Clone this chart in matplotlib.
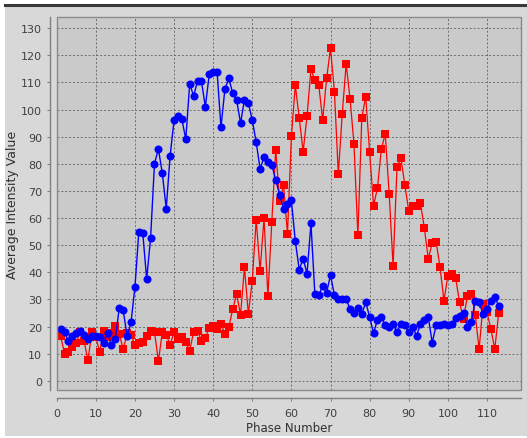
import numpy as np
import matplotlib
matplotlib.use("Agg")
import matplotlib.pyplot as plt
from matplotlib.patches import Rectangle
from matplotlib.lines import Line2D

# Data
phase = list(range(1, 114))

blue_values = [
    19, 18, 14.5, 16.5, 17.5, 18.5, 17, 15.5, 16.5, 16.5,
    16, 14, 17.5, 13, 15.5, 27, 26, 16.5, 21.5, 34.5,
    55, 54.5, 37.5, 52.5, 80, 85.5, 76.5, 63.5, 83, 96,
    97.5, 96.5, 89, 109.5, 105, 110.5, 110.5, 101, 113, 114,
    114, 93.5, 107.5, 111.5, 106, 103.5, 95, 103.5, 102.5, 96,
    88, 78, 82.5, 80.5, 79.5, 74, 68.5, 63.5, 65, 66.5,
    51.5, 41, 45, 39.5, 58, 32, 31.5, 35, 32.5, 39,
    31.5, 30, 30, 30, 26.5, 25, 27, 24.5, 29, 23.5,
    17.5, 22.5, 23.5, 20.5, 20, 21, 18, 21, 20.5, 18,
    20, 16.5, 21, 22.5, 23.5, 14, 20.5, 20.5, 21, 20.5,
    21, 23, 24, 25, 20, 21.5, 29.5, 29, 24.5, 26.5,
    29.5, 31, 27.5,
]

red_values = [
    16.5, 10, 10.5, 12.5, 14, 18, 14.5, 7.6, 18, 16,
    10.7, 18.4, 16, 17.5, 20.2, 17.2, 11.6, 17.5, 16.9, 13.2,
    14, 14.2, 16.5, 18.4, 18, 7.2, 18, 17, 13.2, 18,
    15.4, 16, 14.2, 11.1, 18, 18.5, 14.8, 15.9, 19.5, 20.3,
    19, 21.1, 17.2, 19.7, 26.4, 32, 24.3, 41.8, 24.6, 36.9,
    59.4, 40.6, 59.9, 31.4, 58.7, 85.2, 66.2, 72, 54.2, 90.1,
    109, 96.9, 84.5, 97.5, 115, 110.7, 109, 96, 111.5, 122.6,
    106.6, 76.2, 98.4, 116.8, 103.9, 87.3, 53.7, 97, 104.7, 84.3,
    64.6, 71, 85.5, 91, 68.9, 42.2, 78.7, 82, 72.2, 62.7,
    64.6, 64.6, 65.5, 56.2, 44.9, 50.8, 51.3, 41.8, 29.5, 38.7,
    39.4, 37.8, 28.9, 22.8, 31.4, 32, 24.2, 11.7, 28.3, 25.2,
    19.1, 11.7, 25,
]

x_ticks = list(range(0, 111, 10))
y_ticks = list(range(0, 131, 10))

W, H = 527, 439
PANEL = "#d8d8d8"
PLOT_BG = "#cacaca"
GRID = "#6e6e6e"


def px_box(left, top, right, bottom):
    """Convert a pixel box to figure fraction [l, b, w, h]."""
    return [left / W, 1 - bottom / H, (right - left) / W, (bottom - top) / H]


fig = plt.figure(figsize=(W / 100, H / 100), dpi=100, facecolor="white")

# panel background and top border of the screenshot
fig.patches.append(Rectangle((5 / W, 1 - 437 / H), 522 / W, 430 / H,
                             transform=fig.transFigure, facecolor=PANEL,
                             edgecolor="none", zorder=-10))
fig.lines.append(Line2D([5 / W, 1], [1 - 6 / H, 1 - 6 / H],
                        transform=fig.transFigure, color="#3a3a3a", lw=2.2,
                        zorder=10))

ax = fig.add_axes(px_box(56.7, 18.3, 521, 390.7))
ax.set_facecolor(PLOT_BG)

ax.plot(phase, red_values, color="#ff0000", lw=0.9, marker="s",
        markersize=5.2, markeredgewidth=0, zorder=3)
ax.plot(phase, blue_values, color="#0000ff", lw=1.0, marker="o",
        markersize=5.8, markeredgewidth=0, zorder=4)

ax.set_xlim(0, 118.7)
ax.set_ylim(-3.3, 134)
ax.set_xticks(x_ticks)
ax.set_yticks(y_ticks)
ax.grid(True, color=GRID, linestyle=(0, (2, 2)), linewidth=0.7)
ax.set_axisbelow(True)

for side in ("top", "right"):
    ax.spines[side].set_visible(False)
ax.spines["left"].set_position(("outward", 5))
ax.spines["bottom"].set_position(("outward", 6))
for side in ("left", "bottom"):
    ax.spines[side].set_color("#808080")
    ax.spines[side].set_linewidth(1.0)

# frame around the data area
ax.add_patch(Rectangle((0, 0), 1, 1, transform=ax.transAxes, fill=False,
                       edgecolor="#8a8a8a", lw=1.0, clip_on=False, zorder=5))

ax.tick_params(axis="both", direction="out", length=2, width=0.8,
               color="#808080", labelsize=8, labelcolor="#404040")
ax.tick_params(axis="y", pad=3.5)
ax.tick_params(axis="x", pad=5)

ax.set_xlabel("Phase Number", fontsize=8.5, color="#303030", labelpad=2.5)
ax.set_ylabel("Average Intensity Value", fontsize=9, color="#303030",
              labelpad=1.5)

fig.savefig("out.png", dpi=100, facecolor=fig.get_facecolor())
